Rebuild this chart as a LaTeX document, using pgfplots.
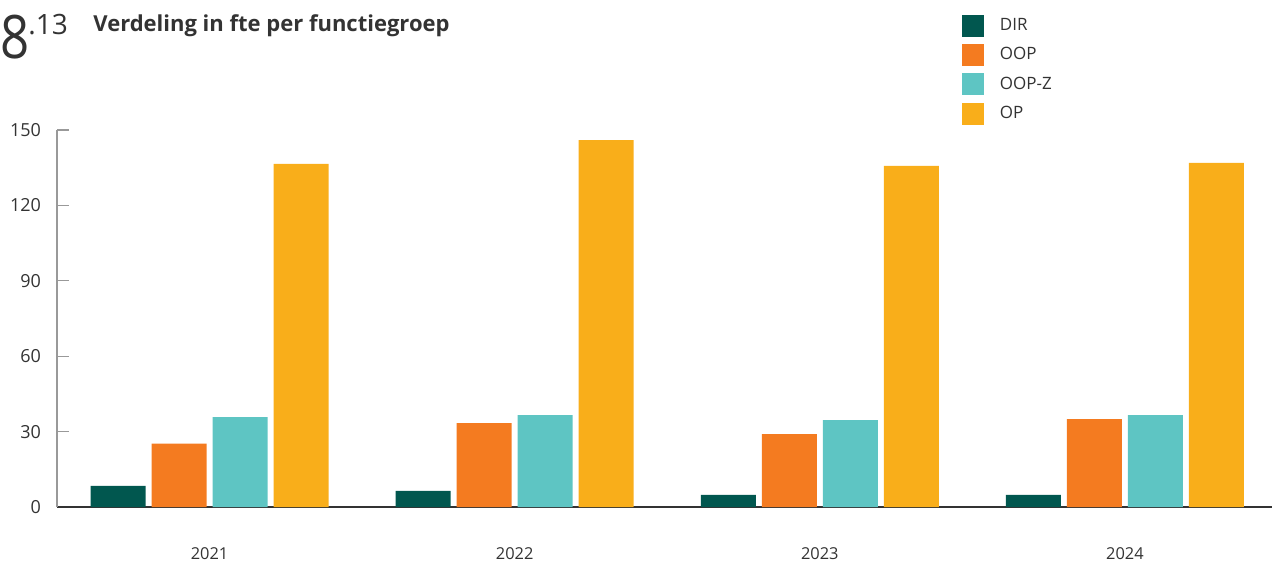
\documentclass[border=0pt]{standalone}
\usepackage{pgfplots}
\pgfplotsset{compat=1.18}
\usepackage{fontspec}
\setmainfont{Open Sans}
\definecolor{cDIR}{HTML}{01574F}
\definecolor{cOOP}{HTML}{F47B20}
\definecolor{cOOPZ}{HTML}{5EC5C3}
\definecolor{cOP}{HTML}{F9AE1A}
\definecolor{txt}{HTML}{333333}
\begin{document}
\begin{tikzpicture}[x=1pt,y=1pt]
\begin{axis}[
  at={(28.5pt,28pt)}, anchor=south west,
  scale only axis, width=607.5pt, height=188.5pt,
  ybar=3pt, bar width=27.5pt,
  xmin=-0.5, xmax=3.482, ymin=0, ymax=150,
  axis x line=bottom, axis y line=left,
  x axis line style={-, draw=txt, line width=0.8pt},
  y axis line style={-, draw=gray!80, line width=0.7pt},
  xtick={0,1,2,3}, xticklabels={2021,2022,2023,2024},
  major x tick style={draw=none},
  extra x ticks={0.5,1.5,2.5}, extra x tick labels={},
  extra x tick style={major tick length=4.5pt, tick style={draw=txt, line width=0.6pt}},
  xticklabel style={anchor=center, yshift=-23.5pt, font=\fontsize{8.2}{9}\selectfont, text=txt},
  ytick={0,30,60,90,120,150},
  yticklabel style={anchor=east, xshift=-4.5pt, font=\fontsize{9}{10}\selectfont, text=txt},
  tick align=inside,
  major y tick style={draw=gray!80, line width=0.6pt},
  major tick length=6pt,
  /pgf/number format/assume math mode=true,
  legend style={at={(0.7445,1.308)}, anchor=north west, draw=none, fill=none,
    font=\fontsize{8.5}{10}\selectfont, text=txt, row sep=3pt,
    legend cell align=left, inner sep=0pt,
    /tikz/every odd column/.append style={column sep=6pt}},
  legend image code/.code={\fill[#1,draw=none] (0pt,-5.5pt) rectangle (11pt,5.5pt);},
]
\addplot[fill=cDIR, draw=none] coordinates {(0,8.4) (1,6.4) (2,4.8) (3,4.8)};
\addplot[fill=cOOP, draw=none] coordinates {(0,25.2) (1,33.4) (2,29.0) (3,35.0)};
\addplot[fill=cOOPZ, draw=none] coordinates {(0,35.8) (1,36.6) (2,34.6) (3,36.6)};
\addplot[fill=cOP, draw=none] coordinates {(0,136.5) (1,146.0) (2,135.7) (3,136.9)};
\legend{DIR,OOP,OOP-Z,OP}
\end{axis}
\node[anchor=base west, inner sep=0pt, text=txt] at (0pt,252pt) {\scalebox{0.85}[1]{\fontsize{30}{30}\selectfont 8}};
\node[anchor=base west, inner sep=0pt, text=txt] at (14pt,264pt) {\fontsize{14}{14}\selectfont .13};
\node[anchor=base west, inner sep=0pt, text=txt] at (46.5pt,265.5pt) {\fontsize{11}{12}\selectfont\bfseries Verdeling in fte per functiegroep};
\pgfresetboundingbox
\path[use as bounding box] (0pt,0pt) rectangle (636pt,281.5pt);
\end{tikzpicture}
\end{document}
